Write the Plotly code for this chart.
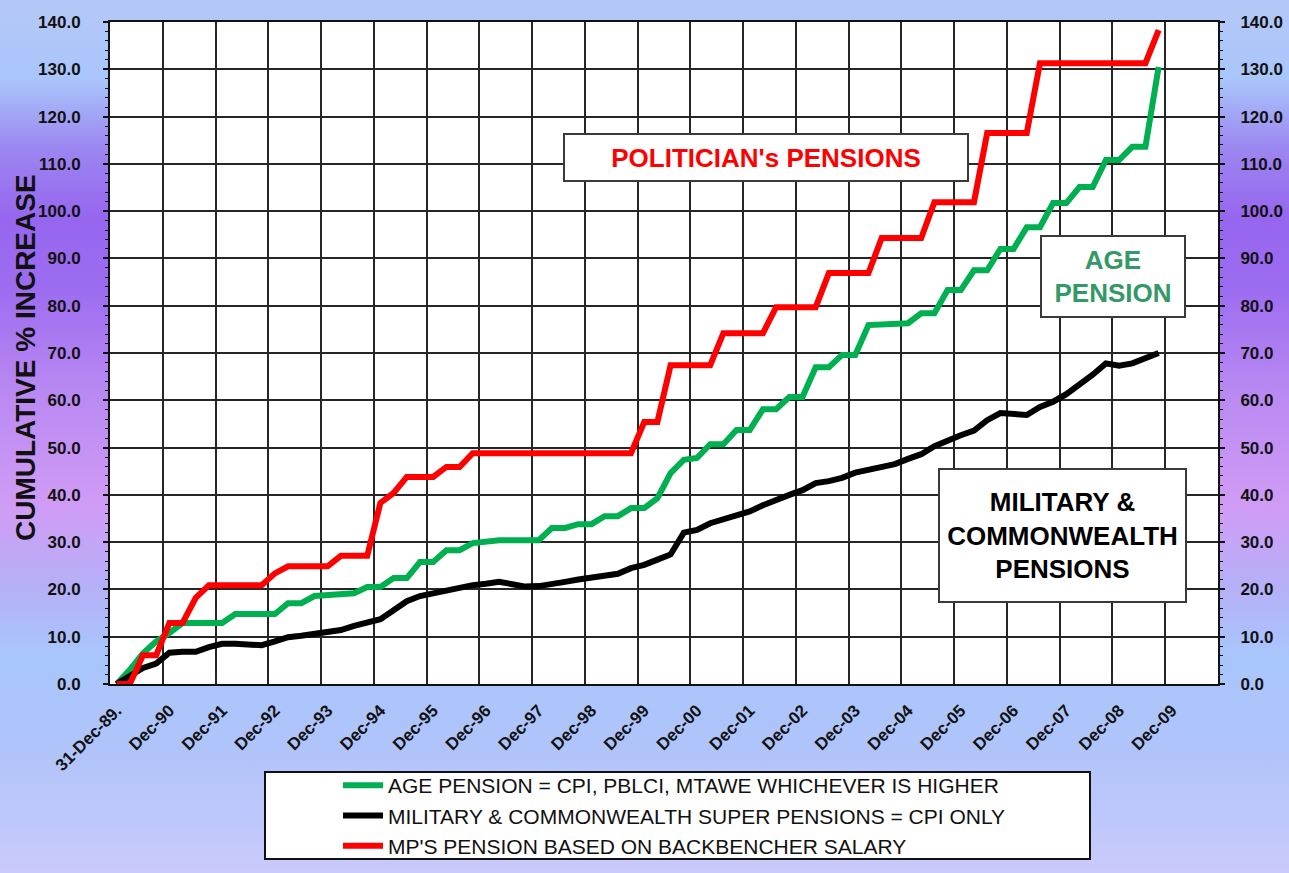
import base64
import plotly.graph_objects as go

# ---------------- data (quarterly, 31-Dec-89 .. Sep-09) ----------------
quarter_index = list(range(80))

age_pension = [0.0, 3.0, 6.5, 9.0, 10.8, 12.9, 12.9, 12.9, 12.9, 14.8,
               14.8, 14.8, 14.8, 17.1, 17.1, 18.6, 18.8, 19.0, 19.2, 20.5,
               20.5, 22.4, 22.4, 25.8, 25.8, 28.3, 28.3, 29.8, 30.2, 30.4,
               30.4, 30.4, 30.4, 33.0, 33.0, 33.8, 33.8, 35.5, 35.5, 37.2,
               37.2, 39.3, 44.6, 47.4, 47.8, 50.7, 50.7, 53.7, 53.7, 58.1,
               58.1, 60.7, 60.7, 67.0, 67.0, 69.6, 69.6, 75.9, 76.0, 76.1,
               76.3, 78.4, 78.4, 83.3, 83.3, 87.5, 87.5, 92.0, 92.0, 96.6,
               96.6, 101.7, 101.7, 105.1, 105.1, 110.8, 110.8, 113.6, 113.6, 130.5]

military_cpi = [0.0, 1.8, 3.4, 4.3, 6.6, 6.8, 6.8, 7.8, 8.5, 8.5,
                8.2, 8.2, 9.0, 9.9, 10.2, 10.7, 11.0, 11.4, 12.3, 12.9,
                13.7, 15.6, 17.5, 18.6, 19.2, 19.8, 20.5, 20.9, 21.2, 21.6,
                21.1, 20.6, 20.7, 21.0, 21.6, 22.1, 22.5, 22.7, 23.3, 24.5,
                25.2, 26.3, 27.4, 32.0, 32.6, 34.0, 34.8, 35.5, 36.5, 37.8,
                39.0, 40.0, 41.0, 42.5, 42.9, 43.6, 44.7, 45.4, 45.9, 46.5,
                47.6, 48.6, 50.3, 51.6, 52.6, 53.6, 55.8, 57.3, 57.1, 56.9,
                58.6, 59.7, 61.3, 63.2, 65.4, 67.8, 67.3, 67.8, 68.9, 70.0]

mp_pension = [0.0, 0.0, 6.1, 6.1, 12.9, 12.9, 18.2, 20.9, 20.9, 20.9,
              20.9, 20.9, 23.4, 24.9, 24.9, 24.9, 24.9, 27.1, 27.1, 27.1,
              38.3, 40.4, 43.8, 43.8, 43.8, 45.9, 45.9, 48.8, 48.8, 48.8,
              48.8, 48.8, 48.8, 48.8, 48.8, 48.8, 48.8, 48.8, 48.8, 48.8,
              55.4, 55.4, 67.4, 67.4, 67.4, 67.4, 74.2, 74.2, 74.2, 74.2,
              79.7, 79.7, 79.7, 79.7, 86.9, 86.9, 86.9, 86.9, 94.3, 94.3,
              94.3, 94.3, 101.9, 101.9, 101.9, 101.9, 116.5, 116.5, 116.5, 116.5,
              131.3, 131.3, 131.3, 131.3, 131.3, 131.3, 131.3, 131.3, 131.3, 138.3]

year_labels = ["31-Dec-89.", "Dec-90", "Dec-91", "Dec-92", "Dec-93", "Dec-94",
               "Dec-95", "Dec-96", "Dec-97", "Dec-98", "Dec-99", "Dec-00",
               "Dec-01", "Dec-02", "Dec-03", "Dec-04", "Dec-05", "Dec-06",
               "Dec-07", "Dec-08", "Dec-09"]
label_quarters = [0, 4, 8, 12, 16, 20, 24, 28, 32, 36, 40, 44, 48, 52, 56,
                  60, 64, 68, 72, 76, 80]
grid_quarters = [-0.5, 3.5, 7.5, 11.5, 15.5, 19.5, 23.5, 27.5, 31.5, 35.5, 39.5,
                 43.5, 47.5, 51.5, 55.5, 59.5, 63.5, 67.5, 71.5, 75.5, 79.5, 83.5]
tick_quarters = [1.5, 5.5, 9.5, 13.5, 17.5, 21.5, 25.5, 29.5, 33.5, 37.5, 41.5,
                 45.5, 49.5, 53.5, 57.5, 61.5, 65.5, 69.5, 73.5, 77.5, 81.5]

legend_names = ["AGE PENSION = CPI, PBLCI, MTAWE WHICHEVER IS HIGHER",
                "MILITARY & COMMONWEALTH SUPER PENSIONS = CPI ONLY",
                "MP'S PENSION BASED ON BACKBENCHER SALARY"]

# ---------------- geometry ----------------
W, H = 1289, 873
ML, MR, MT, MB = 110, 71, 22, 189
PW, PH = W - ML - MR, H - MT - MB


def px_x(p):
    return (p - ML) / PW


def px_y(p):
    return (H - MB - p) / PH


# ---------------- background gradient ----------------
stops = [(0.00, "#b4c8f7"), (0.09, "#a9c6fb"), (0.17, "#9c86f0"),
         (0.25, "#9766ef"), (0.33, "#9c6cf0"), (0.45, "#b989f2"),
         (0.58, "#d09cf5"), (0.67, "#b6aff8"), (0.75, "#a8c6fc"),
         (0.86, "#b0c4fa"), (1.00, "#cacafb")]
stop_xml = "".join(f'<stop offset="{o}" stop-color="{c}"/>' for o, c in stops)
svg = (f'<svg xmlns="http://www.w3.org/2000/svg" width="{W}" height="{H}" '
       f'viewBox="0 0 {W} {H}" preserveAspectRatio="none"><defs>'
       f'<linearGradient id="g" x1="0" y1="0" x2="0" y2="1">{stop_xml}</linearGradient>'
       f'</defs><rect x="0" y="0" width="{W}" height="{H}" fill="url(#g)"/></svg>')
bg_uri = "data:image/svg+xml;base64," + base64.b64encode(svg.encode()).decode()

# ---------------- figure ----------------
fig = go.Figure()
fig.add_trace(go.Scatter(x=quarter_index, y=age_pension, mode="lines",
                         name=legend_names[0],
                         line=dict(color="#00b050", width=6)))
fig.add_trace(go.Scatter(x=quarter_index, y=military_cpi, mode="lines",
                         name=legend_names[1],
                         line=dict(color="#000000", width=6)))
fig.add_trace(go.Scatter(x=quarter_index, y=mp_pension, mode="lines",
                         name=legend_names[2], yaxis="y2",
                         line=dict(color="#ff0000", width=6)))

tick_font = dict(family="Liberation Sans, Arial, sans-serif", size=17,
                 color="#111111", weight="bold")
grid_col = "#262626"

fig.update_layout(
    width=W, height=H,
    margin=dict(l=ML, r=MR, t=MT, b=MB, autoexpand=False),
    paper_bgcolor="#b8bcf8",
    plot_bgcolor="#ffffff",
    showlegend=True,
    legend=dict(xref="container", yref="container",
                x=338 / W, y=1 - 765 / H, xanchor="left", yanchor="top",
                bgcolor="rgba(0,0,0,0)", borderwidth=0, itemwidth=40,
                font=dict(family="Liberation Sans, Arial, sans-serif", size=21,
                          color="#111111"),
                tracegroupgap=0),
    xaxis=dict(range=[-0.5, 83.5], tickmode="array", tickvals=label_quarters,
               ticktext=year_labels, tickangle=-45, ticks="", showgrid=False,
               tickfont=tick_font, ticklabelstandoff=8,
               showline=True, linecolor="#111111", linewidth=2, mirror=True,
               zeroline=False,
               minor=dict(tickmode="array", tickvals=grid_quarters, showgrid=True,
                          gridcolor=grid_col, gridwidth=1.6, ticks="")),
    xaxis2=dict(range=[-0.5, 83.5], overlaying="x", anchor="y", side="bottom",
                tickmode="array", tickvals=tick_quarters, ticks="outside",
                ticklen=5, tickwidth=1.5, tickcolor="#111111",
                showticklabels=False, showgrid=False, zeroline=False,
                showline=False),
    yaxis=dict(range=[0, 140], tickmode="linear", tick0=0, dtick=10,
               tickformat=".1f", tickfont=tick_font, ticks="outside", ticklen=5,
               tickwidth=1.5, tickcolor="#111111", ticklabelstandoff=19,
               showgrid=True, gridcolor=grid_col, gridwidth=1.6,
               showline=True, linecolor="#111111", linewidth=2, mirror=True,
               zeroline=False,
               minor=dict(dtick=2, ticks="outside", ticklen=3, tickwidth=1,
                          tickcolor="#111111", showgrid=False)),
    yaxis2=dict(range=[0, 140], overlaying="y", side="right", tickmode="linear",
                tick0=0, dtick=10, tickformat=".1f", tickfont=tick_font,
                ticks="outside", ticklen=5, tickwidth=1.5, tickcolor="#111111",
                ticklabelstandoff=12, showgrid=False, zeroline=False,
                showline=True, linecolor="#111111", linewidth=2,
                minor=dict(dtick=2, ticks="outside", ticklen=3, tickwidth=1,
                           tickcolor="#111111")),
    images=[dict(source=bg_uri, xref="paper", yref="paper",
                 x=-ML / PW, y=1 + MT / PH, sizex=W / PW, sizey=H / PH,
                 xanchor="left", yanchor="top", sizing="stretch",
                 layer="below")],
    shapes=[dict(type="rect", xref="paper", yref="paper",
                 x0=0, x1=1, y0=0, y1=1, fillcolor="#ffffff",
                 line=dict(width=0), layer="below"),
            dict(type="rect", xref="paper", yref="paper",
                 x0=px_x(265), x1=px_x(1090), y0=px_y(859), y1=px_y(772),
                 fillcolor="#ffffff", line=dict(color="#111111", width=2),
                 layer="above")],
)

box_font = "Liberation Sans, Arial, sans-serif"
annotations = [
    dict(text="POLITICIAN's PENSIONS", x=px_x(766), y=px_y(157.5),
         width=402, height=45, color="#ff0000"),
    dict(text="AGE<br>PENSION", x=px_x(1113), y=px_y(276.5),
         width=142, height=79, color="#339966"),
    dict(text="MILITARY &<br>COMMONWEALTH<br>PENSIONS", x=px_x(1062.5),
         y=px_y(535.5), width=245, height=131, color="#000000"),
]
for a in annotations:
    fig.add_annotation(text=a["text"], x=a["x"], y=a["y"], xref="paper",
                       yref="paper", xanchor="center", yanchor="middle",
                       showarrow=False, width=a["width"], height=a["height"],
                       align="center", valign="middle",
                       bgcolor="#ffffff", bordercolor="#3a3a3a", borderwidth=2,
                       borderpad=0,
                       font=dict(family=box_font, size=26, weight="bold",
                                 color=a["color"]))

fig.add_annotation(text="CUMULATIVE % INCREASE", textangle=-90,
                   x=px_x(25), y=px_y(358), xref="paper", yref="paper",
                   xanchor="center", yanchor="middle", showarrow=False,
                   font=dict(family="Liberation Sans, Arial, sans-serif",
                             size=28, weight="bold", color="#111111"))

fig.write_html("out.html", config={"displayModeBar": False},
               post_script="document.body.style.margin='0';")
